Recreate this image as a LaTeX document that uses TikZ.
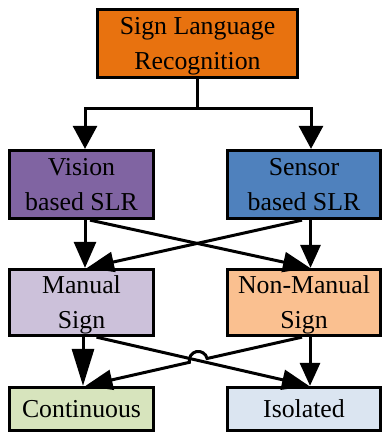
\documentclass[tikz,border=0pt]{standalone}
\usepackage{fontspec}
\setmainfont{Liberation Serif}
\usetikzlibrary{arrows.meta,calc,intersections}
\definecolor{cTop}{HTML}{E8720F}
\definecolor{cVis}{HTML}{8064A2}
\definecolor{cSen}{HTML}{4F81BD}
\definecolor{cMan}{HTML}{CCC1DA}
\definecolor{cNM}{HTML}{FAC090}
\definecolor{cCon}{HTML}{D7E4BD}
\definecolor{cIso}{HTML}{DBE5F1}
\tikzset{
  box/.style={draw=black, line width=2.8pt, inner sep=0pt, align=center,
    font=\fontsize{25.8}{35}\selectfont, text depth=0pt},
  ln/.style={line width=3pt},
  arrTop/.style={ln, -{Triangle[length=23pt,width=24pt]}},
  arrMid/.style={ln, -{Triangle[length=26pt,width=22pt]}},
  arrSm/.style={ln, -{Triangle[length=23pt,width=20pt]}},
  arrLong/.style={ln, -{Triangle[length=37pt,width=22pt]}},
  arrX/.style={ln, -{Triangle[length=27pt,width=20pt]}},
}
\begin{document}
\begin{tikzpicture}[x=1pt,y=1pt]
\useasboundingbox (0,0) rectangle (383,-433);
\node[box, fill=cTop, minimum width=200.5pt, minimum height=68.5pt] (slr) at (197.5,-43.5) {Sign Language\\Recognition};
\node[box, fill=cVis, minimum width=144.5pt, minimum height=68.5pt] (vis) at (81.5,-184.5) {Vision\\based SLR};
\node[box, fill=cSen, minimum width=153.5pt, minimum height=68.5pt] (sen) at (304,-184.5) {Sensor\\based SLR};
\node[box, fill=cMan, minimum width=144.5pt, minimum height=66.5pt] (man) at (81.5,-302.5) {Manual\\Sign};
\node[box, fill=cNM, minimum width=153.5pt, minimum height=66.5pt] (nm) at (304,-302.5) {Non-Manual\\Sign};
\node[box, fill=cCon, minimum width=144.5pt, minimum height=43.5pt] (con) at (81.5,-409) {Continuous};
\node[box, fill=cIso, minimum width=153.5pt, minimum height=43.5pt] (iso) at (304,-409) {Isolated};

% top split
\draw[ln] (slr.south) -- ++(0,-29) coordinate (split);
\draw[arrTop] (split) -| ([xshift=3.5pt]vis.north);
\draw[arrTop] (split) -| ([xshift=7pt]sen.north);

% row 2 -> 3
\draw[arrX] ([xshift=8.5pt]vis.south) -- ([xshift=6pt]nm.north);
\draw[arrX] ([xshift=-2pt]sen.south) -- ([xshift=5.5pt]man.north);
\draw[arrMid] ([xshift=3.5pt]vis.south) -- ([xshift=3.5pt]man.north);
\draw[arrSm] ([xshift=6.5pt]sen.south) -- ([xshift=6.5pt]nm.north);

% row 3 -> 4
\path[name path=lineA] ([xshift=15pt]man.south) -- ([xshift=5pt]iso.north);
\path[name path=lineB] ([xshift=-2pt]nm.south) -- ([xshift=4pt]con.north);
\path[name intersections={of=lineA and lineB, by=X}];
\draw[arrX] ([xshift=15pt]man.south) -- ([xshift=5pt]iso.north);
\draw[arrX] ([xshift=-2pt]nm.south) -- ($(X)!9pt!([xshift=-2pt]nm.south)$)
  arc[start angle=12.2, end angle=192.2, radius=9pt] -- ([xshift=4pt]con.north);
\draw[arrLong] ([xshift=1.5pt]man.south) -- ([xshift=1.5pt]con.north);
\draw[arrSm] ([xshift=6pt]nm.south) -- ([xshift=6pt]iso.north);
\end{tikzpicture}
\end{document}
